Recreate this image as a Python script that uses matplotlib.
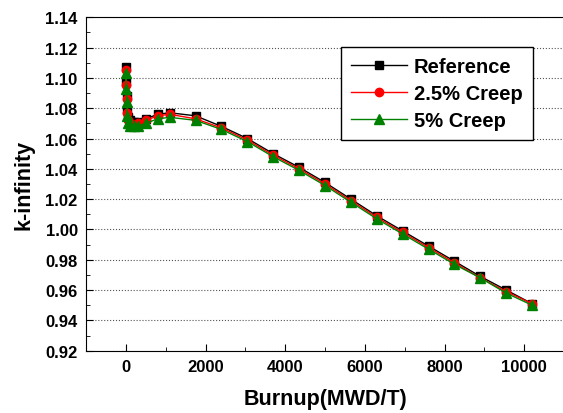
import matplotlib.pyplot as plt
from matplotlib.ticker import MultipleLocator

# burnup steps (MWD/T) and k-infinity
burnup = [0, 10, 25, 40, 60, 100, 200, 300, 500, 800, 1100, 1750, 2400, 3050,
          3700, 4350, 5000, 5650, 6300, 6950, 7600, 8250, 8900, 9550, 10200]
k_ref = [1.107, 1.097, 1.088, 1.079, 1.074, 1.072, 1.071, 1.071, 1.073, 1.076,
         1.077, 1.075, 1.068, 1.060, 1.050, 1.041, 1.031, 1.020, 1.009, 0.999,
         0.989, 0.979, 0.969, 0.960, 0.951]
k_25 = [1.105, 1.095, 1.086, 1.077, 1.072, 1.070, 1.069, 1.070, 1.072, 1.075,
        1.076, 1.073, 1.067, 1.059, 1.049, 1.040, 1.030, 1.019, 1.008, 0.998,
        0.988, 0.978, 0.968, 0.959, 0.951]
k_5 = [1.103, 1.093, 1.084, 1.075, 1.070, 1.068, 1.068, 1.068, 1.070, 1.073,
       1.074, 1.072, 1.066, 1.058, 1.048, 1.039, 1.029, 1.018, 1.007, 0.997,
       0.987, 0.977, 0.968, 0.958, 0.950]

plt.rcParams['font.family'] = ['Liberation Sans', 'DejaVu Sans']
plt.rcParams['font.weight'] = 'bold'

fig = plt.figure(figsize=(5.63, 4.14), dpi=100)
ax = fig.add_axes([0.1528, 0.1505, 0.849, 0.8053])

ax.plot(burnup, k_ref, color='black', marker='s', markersize=6, lw=1, label='Reference')
ax.plot(burnup, k_25, color='red', marker='o', markersize=6, lw=1, label='2.5% Creep')
ax.plot(burnup, k_5, color='#008000', marker='^', markersize=7, lw=1, label='5% Creep')

ax.set_xlim(-1000, 11000)
ax.set_ylim(0.92, 1.14)
ax.xaxis.set_major_locator(MultipleLocator(2000))
ax.xaxis.set_minor_locator(MultipleLocator(1000))
ax.yaxis.set_major_locator(MultipleLocator(0.02))
ax.yaxis.set_minor_locator(MultipleLocator(0.01))
ax.yaxis.set_major_formatter(plt.FormatStrFormatter('%.2f'))
ax.tick_params(which='both', direction='in', labelsize=12, pad=6)
ax.tick_params(which='major', length=5)
ax.tick_params(which='minor', length=3)
for lab in ax.get_xticklabels() + ax.get_yticklabels():
    lab.set_fontweight('bold')
ax.grid(axis='y', which='major', linestyle=':', color='#555555', lw=0.8)

ax.set_xlabel('Burnup(MWD/T)', fontsize=15.5, fontweight='bold', labelpad=10)
ax.set_ylabel('k-infinity', fontsize=15.5, fontweight='bold', labelpad=8)

leg = ax.legend(loc='upper right', bbox_to_anchor=(0.935, 0.911), borderaxespad=0,
                fontsize=14.5, handlelength=2.8, handletextpad=0.35,
                fancybox=False, framealpha=1, edgecolor='black',
                borderpad=0.5, labelspacing=0.4)
leg.get_frame().set_linewidth(1)

fig.savefig('out.png', dpi=100)
